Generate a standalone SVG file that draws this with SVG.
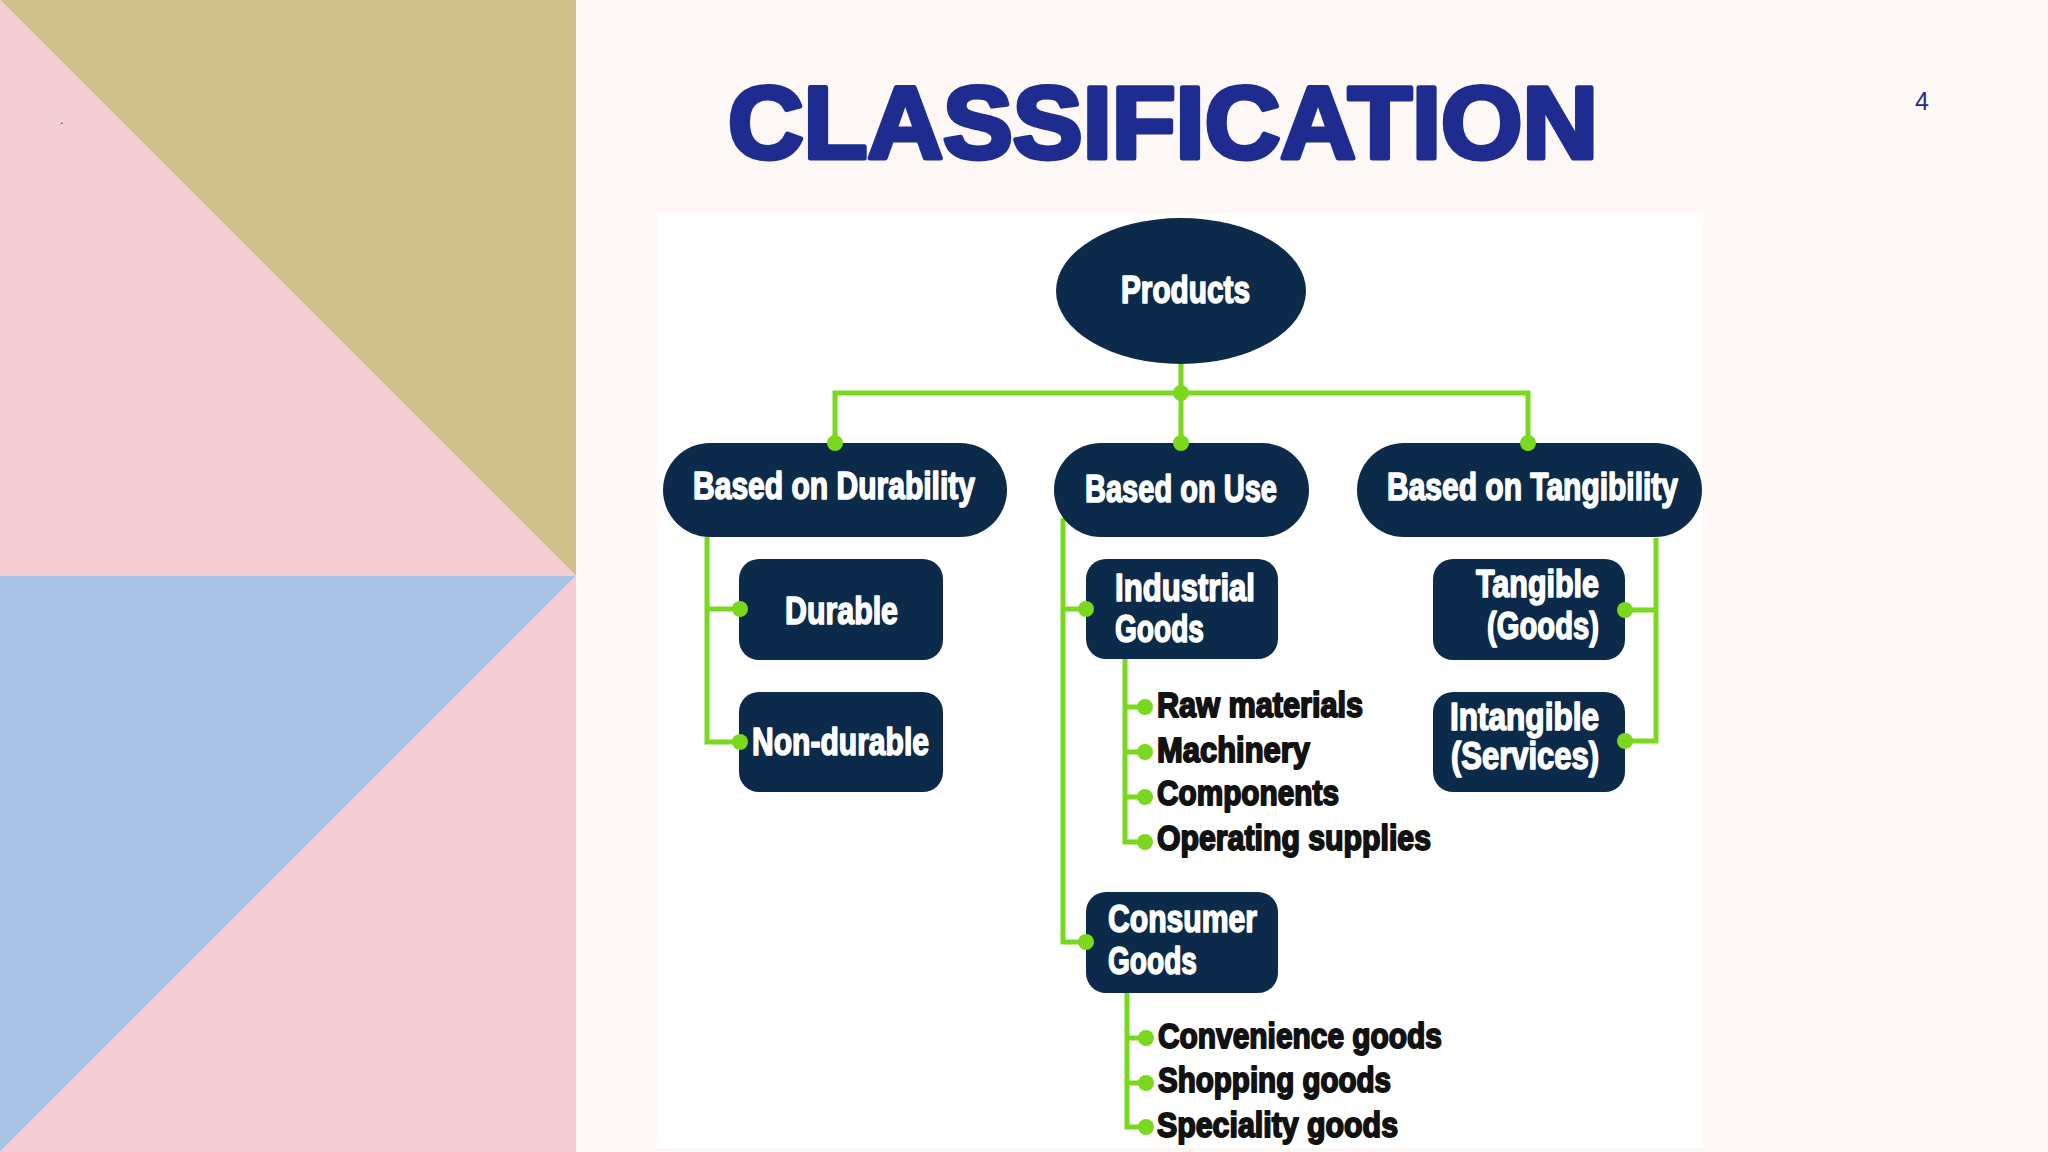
<svg xmlns="http://www.w3.org/2000/svg" width="2048" height="1152" viewBox="0 0 2048 1152">
<style>
.node{fill:#0c2a4a}
.lbl{font-family:"Liberation Sans",Arial,sans-serif;font-weight:bold;font-size:38px;fill:#ffffff;stroke:#ffffff;stroke-width:1.6;stroke-linejoin:round}
.item{font-family:"Liberation Sans",Arial,sans-serif;font-weight:bold;font-size:35px;fill:#121212;stroke:#121212;stroke-width:1.9;stroke-linejoin:round}
.wire{fill:none;stroke:#7ad81f;stroke-width:5;stroke-linejoin:miter}
.dot{fill:#7ad81f}
.title{font-family:"Liberation Sans",Arial,sans-serif;font-weight:900;font-size:102px;fill:#1f2c8f;stroke:#1f2c8f;stroke-width:5;stroke-linejoin:round}
</style>
<rect x="0" y="0" width="2048" height="1152" fill="#fdf8f5"/>
<g id="left-panel">
<polygon points="0,0 576,0 576,576" fill="#cfc08c"/>
<polygon points="0,0 0,576 576,576" fill="#f5ced4"/>
<polygon points="0,576 576,576 0,1152" fill="#a9c4e6"/>
<polygon points="576,576 576,1152 0,1152" fill="#f5ced4"/>
</g>
<text x="60" y="124" font-family="Liberation Sans, Arial, sans-serif" font-size="12" fill="#1f2c8f">.</text>
<text class="title" x="728" y="158" textLength="870" lengthAdjust="spacingAndGlyphs">CLASSIFICATION</text>
<text x="1915" y="110" font-family="Liberation Sans, Arial, sans-serif" font-size="25" fill="#1f2c8f">4</text>
<rect x="657" y="213" width="1046" height="935" fill="#ffffff"/>
<g id="connectors">
<path class="wire" d="M1181,364 V443"/>
<path class="wire" d="M835,443 V393 H1528 V443"/>
<path class="wire" d="M707,537 V742 H740 M707,609 H740"/>
<path class="wire" d="M1063,518 V942 H1086 M1063,609 H1086"/>
<path class="wire" d="M1125,659 V842 H1145 M1125,707 H1145 M1125,752 H1145 M1125,797 H1145"/>
<path class="wire" d="M1127,993 V1127 H1146 M1127,1038 H1146 M1127,1083 H1146"/>
<path class="wire" d="M1656,538 V741 H1625 M1656,610 H1625"/>
</g>
<g id="products">
<ellipse class="node" cx="1181" cy="291" rx="125" ry="73"/>
<text class="lbl" x="1121" y="303" font-size="39" textLength="129" lengthAdjust="spacingAndGlyphs">Products</text>
</g>
<g id="durability">
<rect class="node" x="663" y="443" width="344" height="94" rx="47"/>
<text class="lbl" x="693" y="499" textLength="282" lengthAdjust="spacingAndGlyphs">Based on Durability</text>
</g>
<g id="use">
<rect class="node" x="1054" y="443" width="255" height="94" rx="47"/>
<text class="lbl" x="1085" y="502" textLength="192" lengthAdjust="spacingAndGlyphs">Based on Use</text>
</g>
<g id="tangibility">
<rect class="node" x="1357" y="443" width="345" height="94" rx="47"/>
<text class="lbl" x="1387" y="500" textLength="291" lengthAdjust="spacingAndGlyphs">Based on Tangibility</text>
</g>
<g id="durable">
<rect class="node" x="739" y="559" width="204" height="101" rx="20"/>
<text class="lbl" x="785" y="624" textLength="113" lengthAdjust="spacingAndGlyphs">Durable</text>
</g>
<g id="non-durable">
<rect class="node" x="739" y="692" width="204" height="100" rx="20"/>
<text class="lbl" x="752" y="755" textLength="177" lengthAdjust="spacingAndGlyphs">Non-durable</text>
</g>
<g id="industrial">
<rect class="node" x="1086" y="559" width="192" height="100" rx="20"/>
<text class="lbl" x="1115" y="601" textLength="140" lengthAdjust="spacingAndGlyphs">Industrial</text>
<text class="lbl" x="1115" y="642" textLength="89" lengthAdjust="spacingAndGlyphs">Goods</text>
</g>
<g id="consumer">
<rect class="node" x="1086" y="892" width="192" height="101" rx="20"/>
<text class="lbl" x="1108" y="932" textLength="149" lengthAdjust="spacingAndGlyphs">Consumer</text>
<text class="lbl" x="1108" y="974" textLength="89" lengthAdjust="spacingAndGlyphs">Goods</text>
</g>
<g id="tangible">
<rect class="node" x="1433" y="559" width="192" height="101" rx="20"/>
<text class="lbl" x="1476" y="597" textLength="123" lengthAdjust="spacingAndGlyphs">Tangible</text>
<text class="lbl" x="1487" y="639" textLength="112" lengthAdjust="spacingAndGlyphs">(Goods)</text>
</g>
<g id="intangible">
<rect class="node" x="1433" y="692" width="192" height="100" rx="20"/>
<text class="lbl" x="1450" y="730" textLength="149" lengthAdjust="spacingAndGlyphs">Intangible</text>
<text class="lbl" x="1451" y="769" textLength="148" lengthAdjust="spacingAndGlyphs">(Services)</text>
</g>
<g id="industrial-items">
<text class="item" x="1157" y="717" textLength="206" lengthAdjust="spacingAndGlyphs">Raw materials</text>
<text class="item" x="1157" y="762" textLength="153" lengthAdjust="spacingAndGlyphs">Machinery</text>
<text class="item" x="1157" y="805" textLength="182" lengthAdjust="spacingAndGlyphs">Components</text>
<text class="item" x="1157" y="850" textLength="274" lengthAdjust="spacingAndGlyphs">Operating supplies</text>
</g>
<g id="consumer-items">
<text class="item" x="1158" y="1048" textLength="284" lengthAdjust="spacingAndGlyphs">Convenience goods</text>
<text class="item" x="1158" y="1092" textLength="233" lengthAdjust="spacingAndGlyphs">Shopping goods</text>
<text class="item" x="1157" y="1137" textLength="241" lengthAdjust="spacingAndGlyphs">Speciality goods</text>
</g>
<g id="connector-dots">
<circle class="dot" cx="1181" cy="393" r="8"/>
<circle class="dot" cx="835" cy="443" r="8"/>
<circle class="dot" cx="1181" cy="443" r="8"/>
<circle class="dot" cx="1528" cy="443" r="8"/>
<circle class="dot" cx="740" cy="609" r="8"/>
<circle class="dot" cx="740" cy="742" r="8"/>
<circle class="dot" cx="1086" cy="609" r="8"/>
<circle class="dot" cx="1086" cy="942" r="8"/>
<circle class="dot" cx="1145" cy="707" r="8"/>
<circle class="dot" cx="1145" cy="752" r="8"/>
<circle class="dot" cx="1145" cy="797" r="8"/>
<circle class="dot" cx="1145" cy="842" r="8"/>
<circle class="dot" cx="1146" cy="1038" r="8"/>
<circle class="dot" cx="1146" cy="1083" r="8"/>
<circle class="dot" cx="1146" cy="1127" r="8"/>
<circle class="dot" cx="1625" cy="610" r="8"/>
<circle class="dot" cx="1625" cy="741" r="8"/>
</g>
</svg>
